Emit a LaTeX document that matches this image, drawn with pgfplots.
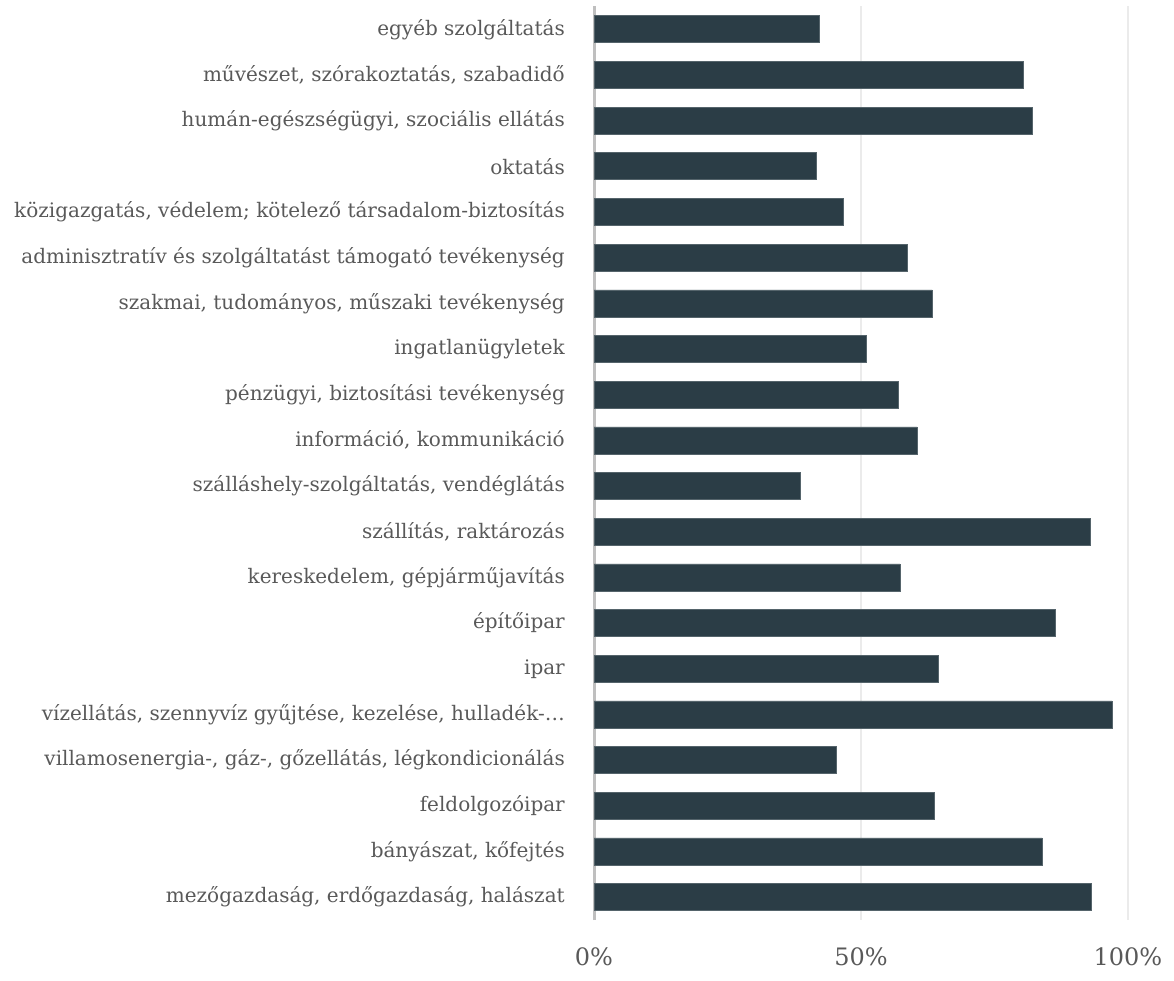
\documentclass[border=0pt]{standalone}
\usepackage{pgfplots}
\pgfplotsset{compat=1.18}
\usepackage{fontspec}
\setmainfont{DejaVu Serif}
\definecolor{barcol}{HTML}{2B3D46}
\definecolor{txt}{HTML}{595959}
\definecolor{gridc}{HTML}{EBEBEB}
\definecolor{zeroc}{HTML}{BFBFBF}

\pgfplotstableread{
y val
0 93.1
1 83.9
2 63.7
3 45.3
4 97.0
5 64.4
6 86.3
7 57.3
8 92.9
9 38.6
10 60.5
11 56.9
12 50.9
13 63.3
14 58.6
15 46.6
16 41.6
17 82.0
18 80.3
19 42.1
}\shares

\begin{document}
\begin{tikzpicture}
\useasboundingbox (0,0) rectangle (1174pt,980pt);
\begin{axis}[
  at={(594pt,60pt)}, anchor=south west,
  scale only axis, width=534pt, height=913.6pt,
  xbar, bar width=27pt,
  xmin=0, xmax=100, ymin=-0.5, ymax=19.5,
  axis line style={draw=none},
  major tick length=0pt,
  xtick={50,100},
  xticklabels={50\%,100\%},
  xmajorgrids, grid style={gridc, line width=1.5pt},
  extra x ticks={0}, extra x tick labels={0\%},
  extra x tick style={grid style={zeroc, line width=3pt}},
  ytick={0,...,19},
  yticklabels={
    {mezőgazdaság, erdőgazdaság, halászat},
    {bányászat, kőfejtés},
    {feldolgozóipar},
    {villamosenergia-, gáz-, gőzellátás, légkondicionálás},
    {vízellátás, szennyvíz gyűjtése, kezelése, hulladék-…},
    {ipar},
    {építőipar},
    {kereskedelem, gépjárműjavítás},
    {szállítás, raktározás},
    {szálláshely-szolgáltatás, vendéglátás},
    {információ, kommunikáció},
    {pénzügyi, biztosítási tevékenység},
    {ingatlanügyletek},
    {szakmai, tudományos, műszaki tevékenység},
    {adminisztratív és szolgáltatást támogató tevékenység},
    {közigazgatás, védelem; kötelező társadalom-biztosítás},
    {oktatás},
    {humán-egészségügyi, szociális ellátás},
    {művészet, szórakoztatás, szabadidő},
    {egyéb szolgáltatás}},
  yticklabel style={font=\fontsize{20}{23}\selectfont, text=txt, anchor=east, inner sep=0pt, xshift=-29pt},
  xticklabel style={font=\fontsize{24}{27}\selectfont, text=txt, anchor=base, inner sep=0pt, yshift=-45pt},
]
\addplot[fill=barcol, draw=barcol!80!white, line width=0.6pt] table[x=val, y=y] {\shares};
\end{axis}
\end{tikzpicture}
\end{document}
